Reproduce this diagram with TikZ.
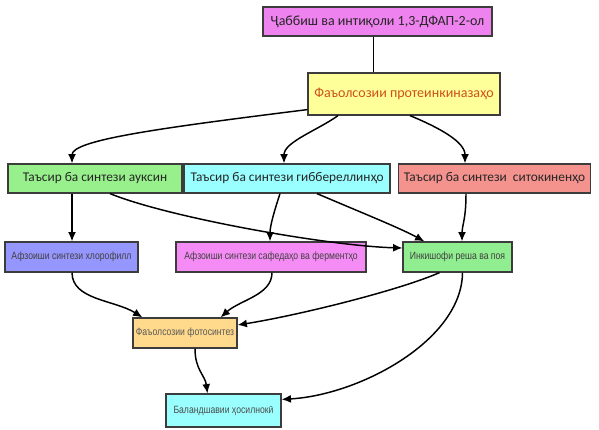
\documentclass[tikz,border=0pt]{standalone}
\usepackage{fontspec}
\setmainfont{Carlito}
\newfontfamily\narrowfont[FakeStretch=0.82]{Liberation Sans}
\usetikzlibrary{arrows.meta,positioning,calc}
\definecolor{boxline}{RGB}{60,60,60}
\definecolor{toppink}{RGB}{238,130,238}
\definecolor{kinyellow}{RGB}{255,255,153}
\definecolor{kintext}{RGB}{205,80,25}
\definecolor{auxgreen}{RGB}{152,240,140}
\definecolor{gibcyan}{RGB}{153,255,255}
\definecolor{cytred}{RGB}{244,146,142}
\definecolor{chlblue}{RGB}{150,150,255}
\definecolor{protpink}{RGB}{245,140,245}
\definecolor{inkgreen}{RGB}{144,238,144}
\definecolor{photoorange}{RGB}{255,217,140}
\definecolor{yieldcyan}{RGB}{153,255,255}
\tikzset{
  block/.style={draw=boxline, line width=0.9pt, inner sep=2pt, minimum height=21.75pt,
    text=black!85, font=\fontsize{10}{12}\selectfont},
  smallblock/.style={block, minimum height=22.5pt, font=\narrowfont\fontsize{7.9}{9}\selectfont},
  flow/.style={line width=1.1pt, -{Latex[length=7pt,width=6pt]}},
}

\begin{document}
\begin{tikzpicture}[x=0.75pt,y=0.75pt]
\clip (0,0) rectangle (599,-429);
\node[block, fill=toppink, minimum width=171.75pt, font=\fontsize{10.5}{12}\selectfont] (inj) at (377.5,-21.5) {Ҷаббиш ва интиқоли 1,3-ДФАП-2-ол};
\node[block, fill=kinyellow, minimum width=144pt, minimum height=31.5pt, text=kintext, font=\fontsize{10.5}{12}\selectfont] (kin) at (404,-94) {Фаъолсозии протеинкиназаҳо};
\node[block, fill=auxgreen, minimum width=130.5pt] (aux) at (95,-178.5) {Таъсир ба синтези ауксин};
\node[block, fill=gibcyan, minimum width=154.5pt] (gib) at (287,-178.5) {Таъсир ба синтези гиббереллинҳо};
\node[block, fill=cytred, anchor=west, inner xsep=4pt] (cyt) at (398,-178.5) {Таъсир ба синтези\ \ ситокиненҳо};
\node[smallblock, fill=chlblue, minimum width=99.75pt, text=black!75] (chl) at (71.5,-257) {Афзоиши синтези хлорофилл};
\node[smallblock, fill=protpink, minimum width=142.5pt, text=black!75] (prot) at (271,-257) {Афзоиши синтези сафедаҳо ва ферментҳо};
\node[smallblock, fill=inkgreen, minimum width=81.75pt, text=black!75] (ink) at (457.5,-257) {Инкишофи реша ва поя};
\node[smallblock, fill=photoorange, minimum width=78pt, text=black!65] (photo) at (185,-333) {Фаъолсозии фотосинтез};
\node[smallblock, fill=yieldcyan, minimum width=86.25pt, minimum height=24.75pt, text=black!70] (yield) at (223.5,-410.5) {Баландшавии ҳосилнокӣ};

\draw[line width=1.1pt] ($(inj.south)+(-4,0)$) -- ($(inj.south |- kin.north)+(-4,0)$);
\draw[flow] ($(kin.south west)+(0,6)$) .. controls (160,-128) and (72,-140) .. ($(aux.north)+(-23,0)$);
\draw[flow] ($(kin.south)+(-66,0)$) .. controls (318,-130) and (284,-142) .. ($(gib.north)+(-3,0)$);
\draw[flow] ($(kin.south)+(6,0)$) .. controls (440,-128) and (465,-142) .. ($(cyt.north west)+(67,0)$);

\draw[flow] ($(aux.south)+(-23,0)$) -- ($(chl.north)+(0.5,0)$);
\draw[flow] ($(aux.south)+(15,0)$) .. controls (170,-218) and (330,-246) .. ($(ink.west)+(0,9)$);
\draw[flow] ($(gib.south)+(-7,0)$) .. controls (274,-212) and (270,-226) .. ($(prot.north)+(-1,0)$);
\draw[flow] ($(gib.south)+(30,0)$) .. controls (360,-212) and (400,-228) .. ($(ink.north west)+(22,0)$);
\draw[flow] ($(cyt.south west)+(68,0)$) .. controls (466,-220) and (462,-225) .. ($(ink.north)+(4.5,0)$);

\draw[flow] ($(chl.south)+(0.5,0)$) .. controls (72,-300) and (115,-300) .. ($(photo.north west)+(10,0)$);
\draw[flow] ($(prot.south)+(1,0)$) .. controls (272,-295) and (240,-300) .. ($(photo.north east)+(-17,0)$);
\draw[flow] ($(ink.south)+(-18,0)$) .. controls (400,-290) and (300,-315) .. ($(photo.east)+(0,8)$);

\draw[flow] ($(photo.south)+(10,0)$) .. controls (195,-370) and (205,-375) .. ($(yield.north)+(-16,0)$);
\draw[flow] ($(ink.south)+(5,0)$) .. controls (462,-340) and (360,-395) .. ($(yield.north east)+(0,-6)$);
\end{tikzpicture}
\end{document}
